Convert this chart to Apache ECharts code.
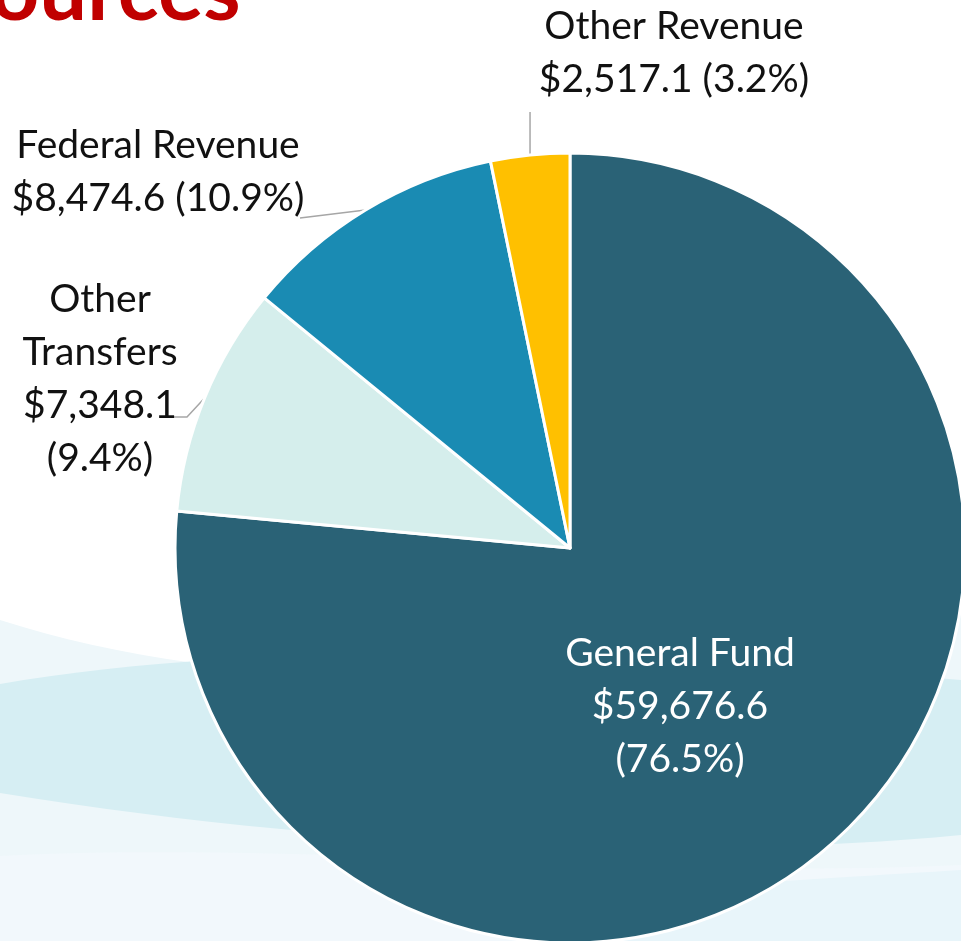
<!DOCTYPE html>
<html>
<head>
<meta charset="utf-8">
<script src="https://cdn.jsdelivr.net/npm/echarts@6/dist/echarts.min.js"></script>
<style>
  html, body { margin: 0; padding: 0; background: #fff; }
  #chart { width: 961px; height: 941px; }
</style>
</head>
<body>
<div id="chart"></div>
<script>
// 数据
const categories = ['General Fund', 'Other Transfers', 'Federal Revenue', 'Other Revenue'];
const values = [59676.6, 7348.1, 8474.6, 2517.1];
const colors = ['#2A6276', '#D5EEEC', '#1A8BB3', '#FFC000'];

const FONT = 'Lato';

// 标签位置 (中心点) 及引导线拐点
const labelSpots = [
    { x: 680, y: 706, guide: null },
    { x: 100, y: 379, guide: [[187, 417], [172, 417]] },
    { x: 158, y: 172, guide: [[300, 218], [300, 218]] },
    { x: 674, y: 53, guide: [[null, 112], [null, 112]] }
];

// 扇区边缘锚点, 首次渲染后从布局读取
let anchors = [];

function fmtMoney(v) {
    return '$' + v.toLocaleString('en-US', { minimumFractionDigits: 1, maximumFractionDigits: 1 });
}

function labelText(params) {
    const money = fmtMoney(params.value);
    const pct = '(' + params.percent.toFixed(1) + '%)';
    switch (params.dataIndex) {
        case 0: return params.name + '\n' + money + '\n' + pct;
        case 1: return params.name.replace(' ', '\n') + '\n' + money + '\n' + pct;
        default: return params.name + '\n' + money + ' ' + pct;
    }
}

// 背景波浪: 三次贝塞尔采样成折线
function bez(p0, p1, p2, p3, n) {
    const pts = [];
    for (let i = 0; i <= n; i++) {
        const t = i / n, u = 1 - t;
        pts.push([
            u * u * u * p0[0] + 3 * u * u * t * p1[0] + 3 * u * t * t * p2[0] + t * t * t * p3[0],
            u * u * u * p0[1] + 3 * u * u * t * p1[1] + 3 * u * t * t * p2[1] + t * t * t * p3[1]
        ]);
    }
    return pts;
}

function wave(points, fill, z) {
    return { type: 'polygon', z: z, silent: true, shape: { points: points }, style: { fill: fill } };
}

const waveA = bez([0, 620], [220, 690], [500, 700], [961, 612], 30).concat([[961, 941], [0, 941]]);
const waveB = bez([0, 684], [250, 640], [600, 650], [961, 680], 30)
    .concat(bez([961, 835], [700, 860], [350, 850], [0, 793], 30));
const waveC = bez([0, 856], [300, 840], [650, 880], [961, 865], 30).concat([[961, 941], [0, 941]]);
const waveD = bez([560, 895], [720, 885], [880, 875], [961, 870], 20).concat([[961, 941], [560, 941]]);

const chart = echarts.init(document.getElementById('chart'));

function buildOption() {
    return {
        backgroundColor: '#ffffff',
        animation: false,
        graphic: [
            wave(waveA, '#EEF7FA', -10),
            wave(waveB, '#D6EEF3', -9),
            wave(waveC, '#F2F8FC', -8),
            wave(waveD, '#E8F5FA', -7),
            // 标题 (被裁切)
            {
                type: 'text', left: -56, top: -50, silent: true,
                style: { text: 'Sources', fill: '#C00000', font: 'bold 85px ' + FONT }
            }
        ],
        series: [
            {
                type: 'pie',
                center: [570, 548],
                radius: 395,
                startAngle: 90,
                clockwise: true,
                avoidLabelOverlap: false,
                itemStyle: { borderColor: '#ffffff', borderWidth: 3 },
                label: {
                    show: true,
                    position: 'outside',
                    formatter: labelText,
                    fontFamily: FONT,
                    fontSize: 39,
                    lineHeight: 53,
                    color: '#111111',
                    align: 'center'
                },
                labelLine: {
                    show: true,
                    lineStyle: { color: '#A6A6A6', width: 1.5 }
                },
                labelLayout: function (params) {
                    const i = params.dataIndex;
                    const p = labelSpots[i];
                    const res = { x: p.x, y: p.y, align: 'center', verticalAlign: 'middle' };
                    const a = anchors[i];
                    if (p.guide && a) {
                        res.labelLinePoints = [a].concat(p.guide.map(function (g) {
                            return [g[0] == null ? a[0] : g[0], g[1]];
                        }));
                    }
                    return res;
                },
                data: categories.map(function (name, i) {
                    const item = { name: name, value: values[i], itemStyle: { color: colors[i] } };
                    if (i === 0) {
                        item.label = { position: 'inside', color: '#ffffff' };
                        item.labelLine = { show: false };
                    }
                    return item;
                })
            }
        ]
    };
}

chart.setOption(buildOption());

// 读取扇区布局, 计算引导线起点
const pieData = chart.getModel().getSeriesByIndex(0).getData();
anchors = categories.map(function (_, i) {
    const l = pieData.getItemLayout(i);
    const mid = (l.startAngle + l.endAngle) / 2;
    return [l.cx + l.r * Math.cos(mid), l.cy + l.r * Math.sin(mid)];
});
chart.setOption(buildOption(), true);
</script>
</body>
</html>
